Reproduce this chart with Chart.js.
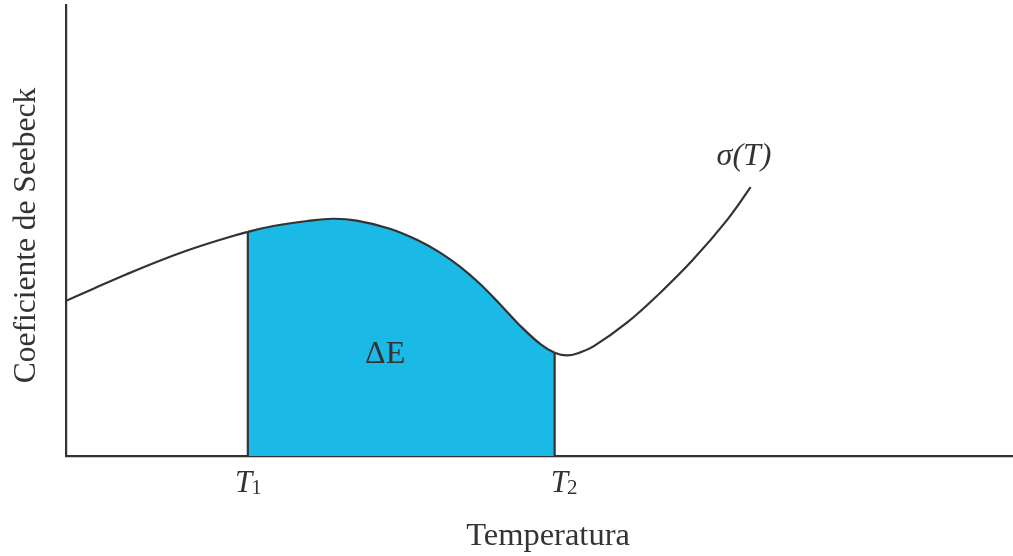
<!DOCTYPE html>
<html>
<head>
<meta charset="utf-8">
<script src="https://cdn.jsdelivr.net/npm/chart.js@4.4.1/dist/chart.umd.min.js"></script>
<style>
  html, body { margin: 0; padding: 0; background: #ffffff; }
  #wrap { width: 1013px; height: 556px; position: relative; }
</style>
</head>
<body>
<div id="wrap"><canvas id="chart" width="1013" height="556"></canvas></div>
<script>
// Temperature samples along the curve (arbitrary units) and the Seebeck coefficient at each
const temperature = [0, 0.29, 0.64, 0.99, 1.34, 1.70, 1.92, 2.19, 2.55, 2.82, 3.07, 3.42, 3.71, 3.95, 4.16, 4.37, 4.58, 4.79, 5.01, 5.16, 5.29, 5.42, 5.57, 5.92, 6.27, 6.62, 6.98, 7.23];
const seebeck     = [3.44, 3.71, 4.03, 4.33, 4.60, 4.84, 4.97, 5.10, 5.21, 5.26, 5.22, 5.04, 4.79, 4.51, 4.20, 3.82, 3.37, 2.90, 2.48, 2.29, 2.23, 2.29, 2.43, 2.95, 3.61, 4.35, 5.23, 5.96];

// Integration bounds
const boundNames = ['T', 'T'];
const boundSubs = ['1', '2'];
const boundTemps = [1.92, 5.16];

// Labels
const curveLabel = 'σ(T)';
const areaLabel = 'ΔE';
const xTitle = 'Temperatura';
const yTitle = 'Coeficiente de Seebeck';

const INK = '#333333';
const FILL = '#1bb9e6';
const SERIF = '"Liberation Serif", "DejaVu Serif", serif';

const curvePoints = temperature.map((t, i) => ({ x: t, y: seebeck[i] }));
const boundValue = t => seebeck[temperature.indexOf(t)];
const [T1, T2] = boundTemps;

const boundLines = boundTemps.map(t => ({
  data: [{ x: t, y: 0 }, { x: t, y: boundValue(t) }],
  borderColor: INK,
  borderWidth: 2.2,
  pointRadius: 0,
  fill: false,
  tension: 0,
  order: 0
}));

const textPlugin = {
  id: 'curveText',
  afterDatasetsDraw(chart) {
    const { ctx, chartArea } = chart;
    const xs = chart.scales.x, ys = chart.scales.y;
    ctx.save();
    ctx.fillStyle = INK;

    // area label inside the shaded region
    ctx.font = '32px ' + SERIF;
    ctx.textAlign = 'center';
    ctx.textBaseline = 'alphabetic';
    ctx.fillText(areaLabel, xs.getPixelForValue(3.37), ys.getPixelForValue(2.06));

    // curve label near the end of the line
    ctx.font = 'italic 32px ' + SERIF;
    ctx.fillText(curveLabel, xs.getPixelForValue(7.16), ys.getPixelForValue(6.45));

    // bound tick labels: italic T with upright subscript
    const shifts = [1, 10];
    boundTemps.forEach((t, i) => {
      const cx = xs.getPixelForValue(t) + shifts[i];
      const base = chartArea.bottom + 36;
      ctx.font = 'italic 31px ' + SERIF;
      const wT = ctx.measureText(boundNames[i]).width;
      ctx.font = '21px ' + SERIF;
      const wS = ctx.measureText(boundSubs[i]).width;
      const x0 = cx - (wT + wS) / 2;
      ctx.textAlign = 'left';
      ctx.font = 'italic 31px ' + SERIF;
      ctx.fillText(boundNames[i], x0, base);
      ctx.font = '21px ' + SERIF;
      ctx.fillText(boundSubs[i], x0 + wT - 1, base + 2);
    });

    // axis titles
    ctx.textAlign = 'center';
    ctx.font = '32.5px ' + SERIF;
    ctx.fillText(xTitle, xs.getPixelForValue(5.09), chartArea.bottom + 89);
    ctx.font = '31.5px ' + SERIF;
    ctx.translate(chartArea.left - 31, (chartArea.top + chartArea.bottom) / 2 + 5);
    ctx.rotate(-Math.PI / 2);
    ctx.fillText(yTitle, 0, 0);
    ctx.restore();
  }
};

new Chart(document.getElementById('chart'), {
  type: 'line',
  data: {
    datasets: [
      {
        data: curvePoints,
        borderColor: INK,
        borderWidth: 2.2,
        pointRadius: 0,
        tension: 0.4,
        fill: 'origin',
        backgroundColor: FILL,
        segment: {
          backgroundColor: c => (c.p0.parsed.x >= T1 - 1e-9 && c.p1.parsed.x <= T2 + 1e-9) ? FILL : 'rgba(0,0,0,0)'
        },
        order: 1
      },
      ...boundLines
    ]
  },
  options: {
    responsive: false,
    animation: false,
    events: [],
    layout: { padding: { left: 58, top: 5, right: 0, bottom: 92 } },
    plugins: { legend: { display: false }, tooltip: { enabled: false } },
    scales: {
      x: {
        type: 'linear', min: 0, max: 10,
        grid: { display: false },
        ticks: { display: false },
        border: { display: true, color: INK, width: 2.2 }
      },
      y: {
        type: 'linear', min: 0, max: 10,
        grid: { display: false },
        ticks: { display: false },
        border: { display: true, color: INK, width: 2.2 }
      }
    }
  },
  plugins: [textPlugin]
});
</script>
</body>
</html>
